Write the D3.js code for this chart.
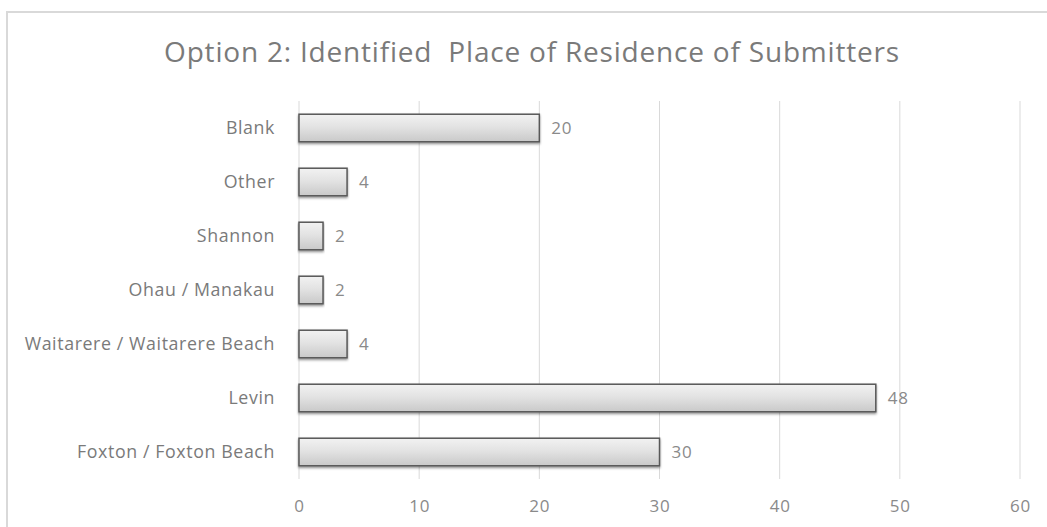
<!DOCTYPE html>
<html>
<head>
<meta charset="utf-8">
<script src="https://cdn.jsdelivr.net/npm/d3@7"></script>
<style>
  html, body { margin: 0; padding: 0; background: #fff; }
  svg { display: block; }
</style>
</head>
<body>
<svg id="chart" width="1047" height="527"></svg>
<script>
// Submitters by place of residence (Option 2)
const categories = [
  "Blank",
  "Other",
  "Shannon",
  "Ohau / Manakau",
  "Waitarere / Waitarere Beach",
  "Levin",
  "Foxton / Foxton Beach"
];
const counts = [20, 4, 2, 2, 4, 48, 30];
const tickValues = [0, 10, 20, 30, 40, 50, 60];
const titleText = "Option 2: Identified  Place of Residence of Submitters";

const W = 1047, H = 527;
const svg = d3.select("#chart");
const FONT = "'Open Sans', 'DejaVu Sans', sans-serif";

// outer chart frame
svg.append("rect")
  .attr("x", 7).attr("y", 12)
  .attr("width", W + 10).attr("height", H + 10)
  .attr("fill", "none")
  .attr("stroke", "#d9d9d9")
  .attr("stroke-width", 2);

const plot = { left: 299, right: 1020, top: 101, bottom: 479 };

const x = d3.scaleLinear().domain([0, 60]).range([plot.left, plot.right]);
const y = d3.scaleBand().domain(categories).range([plot.top, plot.bottom]).paddingInner(0.49).paddingOuter(0.245);

const defs = svg.append("defs");
const grad = defs.append("linearGradient")
  .attr("id", "barFill").attr("x1", 0).attr("y1", 0).attr("x2", 0).attr("y2", 1);
grad.append("stop").attr("offset", "0%").attr("stop-color", "#f2f2f2");
grad.append("stop").attr("offset", "45%").attr("stop-color", "#e3e3e3");
grad.append("stop").attr("offset", "100%").attr("stop-color", "#c9c9c9");

const shadow = defs.append("filter").attr("id", "barShadow")
  .attr("x", "-5%").attr("y", "-20%").attr("width", "110%").attr("height", "160%");
shadow.append("feDropShadow")
  .attr("dx", 0).attr("dy", 1.5).attr("stdDeviation", 1.2)
  .attr("flood-color", "#000").attr("flood-opacity", 0.45);

// vertical gridlines
svg.append("g")
  .selectAll("line")
  .data(tickValues)
  .join("line")
  .attr("x1", d => x(d)).attr("x2", d => x(d))
  .attr("y1", plot.top).attr("y2", plot.bottom)
  .attr("stroke", "#d9d9d9").attr("stroke-width", 1);

// bottom axis labels (no axis line)
const xAxis = svg.append("g")
  .attr("transform", `translate(0,${plot.bottom})`)
  .call(d3.axisBottom(x).tickValues(tickValues).tickSize(0).tickPadding(21));
xAxis.select(".domain").remove();
xAxis.selectAll("text")
  .attr("font-family", FONT).attr("font-size", 17).attr("letter-spacing", 0.8)
  .attr("fill", "#8a8a8a");

// left axis category labels
const yAxis = svg.append("g")
  .attr("transform", `translate(${plot.left},0)`)
  .call(d3.axisLeft(y).tickSize(0).tickPadding(24));
yAxis.select(".domain").remove();
yAxis.selectAll("text")
  .attr("font-family", FONT).attr("font-size", 17.8).attr("letter-spacing", 0.6)
  .attr("fill", "#7a7a7a");

// bars
svg.append("g")
  .selectAll("rect")
  .data(categories)
  .join("rect")
  .attr("x", x(0))
  .attr("y", d => y(d))
  .attr("width", (d, i) => x(counts[i]) - x(0))
  .attr("height", y.bandwidth())
  .attr("fill", "url(#barFill)")
  .attr("stroke", "#595959")
  .attr("stroke-width", 1.5)
  .attr("filter", "url(#barShadow)");

// value labels
svg.append("g")
  .selectAll("text")
  .data(categories)
  .join("text")
  .attr("x", (d, i) => x(counts[i]) + 12)
  .attr("y", d => y(d) + y.bandwidth() / 2)
  .attr("dy", "0.35em")
  .attr("font-family", FONT).attr("font-size", 17).attr("letter-spacing", 0.8)
  .attr("fill", "#8a8a8a")
  .text((d, i) => counts[i]);

// title
svg.append("text")
  .attr("x", 532).attr("y", 62)
  .attr("text-anchor", "middle")
  .attr("font-family", FONT).attr("font-size", 28).attr("letter-spacing", 0.8)
  .attr("fill", "#7a7a7a")
  .attr("xml:space", "preserve")
  .style("white-space", "pre")
  .text(titleText);
</script>
</body>
</html>
